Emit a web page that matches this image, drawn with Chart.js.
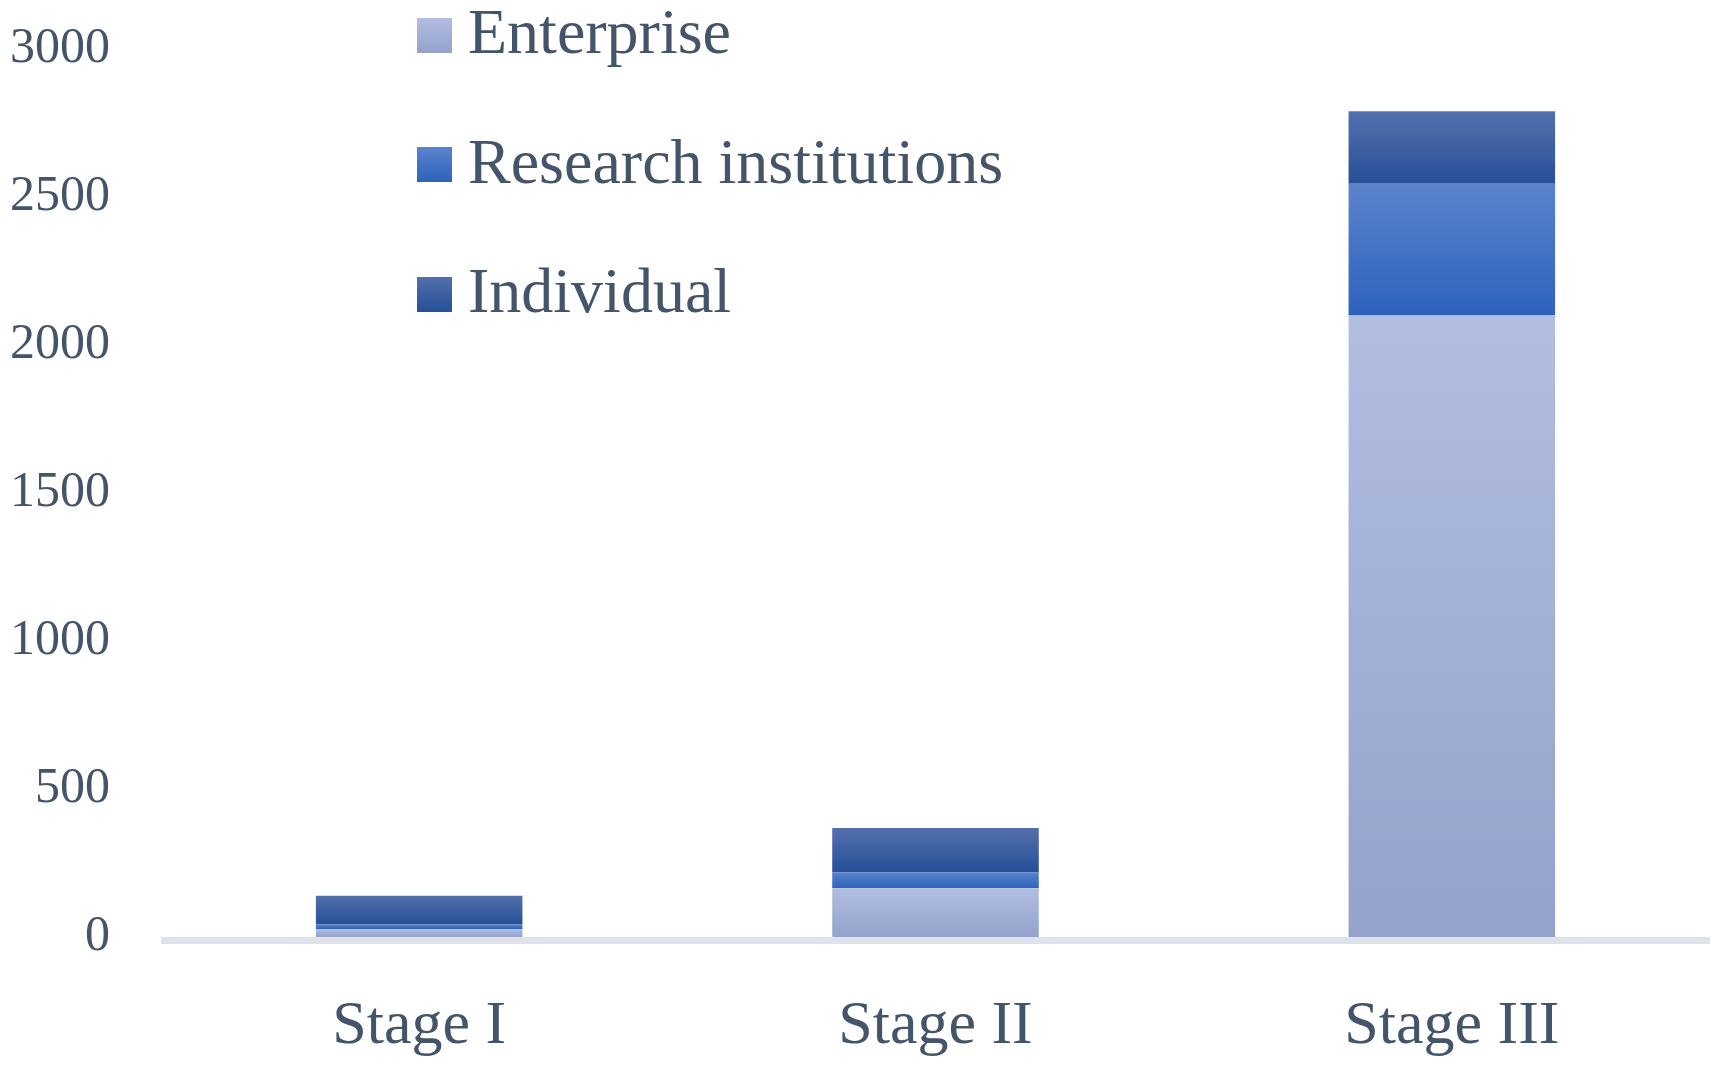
<!DOCTYPE html>
<html>
<head>
<meta charset="utf-8">
<script src="https://cdn.jsdelivr.net/npm/chart.js@4.4.1/dist/chart.umd.min.js"></script>
<style>
  html, body { margin: 0; padding: 0; background: #fff; }
  #wrap { position: relative; width: 1721px; height: 1066px; }
  #legend { position: absolute; left: 417px; top: 0; font-family: "Liberation Serif", serif; font-size: 64px; color: #44546a; }
  .item { display: flex; align-items: center; height: 70px; margin-bottom: 59.5px; white-space: nowrap; }
  .box { width: 35px; height: 35px; margin-right: 16px; flex: none; }
  .item span { line-height: 1; position: relative; top: -3px; }
</style>
</head>
<body>
<div id="wrap">
  <canvas id="chart"></canvas>
  <div id="legend"></div>
</div>
<script>
// データ
const stages = ['Stage I', 'Stage II', 'Stage III'];
const enterprise = [27, 165, 2100];
const research = [15, 54, 445];
const individual = [97, 149, 245];
const yMax = 3000;
const yStep = 500;

const seriesLabels = ['Enterprise', 'Research institutions', 'Individual'];
const seriesColors = [
  ['#b1bee0', '#94a2cc'],
  ['#5b83cc', '#2d62bc'],
  ['#5470ad', '#254f98']
];
const allSeries = [enterprise, research, individual];

const TEXT = '#44546a';

// 各セグメントごとの縦グラデーション
function segmentFill(k) {
  return ctx => {
    const chart = ctx.chart;
    const [top, bottom] = seriesColors[k];
    if (!chart.chartArea || ctx.type !== 'data') return bottom;
    const i = ctx.dataIndex;
    let base = 0;
    for (let j = 0; j < k; j++) base += allSeries[j][i];
    const y = chart.scales.y;
    const y0 = y.getPixelForValue(base + allSeries[k][i]);
    const y1 = y.getPixelForValue(base);
    if (!isFinite(y0) || !isFinite(y1) || y0 === y1) return bottom;
    const g = chart.ctx.createLinearGradient(0, y0, 0, y1);
    g.addColorStop(0, top);
    g.addColorStop(1, bottom);
    return g;
  };
}

// 軸線（棒の下に帯）
const axisLine = {
  id: 'axisLine',
  beforeDatasetsDraw(chart) {
    const { ctx, chartArea: a } = chart;
    ctx.save();
    ctx.fillStyle = '#dee2ea';
    ctx.fillRect(a.left, a.bottom, a.right - a.left, 7);
    ctx.restore();
  }
};

const datasets = allSeries.map((data, k) => ({
  label: seriesLabels[k],
  data: data,
  backgroundColor: segmentFill(k),
  borderWidth: 0,
  barPercentage: 0.4,
  categoryPercentage: 1.0
}));

const canvas = document.getElementById('chart');
canvas.width = 1721;
canvas.height = 1066;

new Chart(canvas.getContext('2d'), {
  type: 'bar',
  data: { labels: stages, datasets: datasets },
  plugins: [axisLine],
  options: {
    responsive: false,
    animation: false,
    layout: { padding: { top: 49, right: 11, bottom: 0, left: 0 } },
    plugins: {
      legend: { display: false },
      tooltip: { enabled: false }
    },
    scales: {
      x: {
        stacked: true,
        grid: { display: false, drawTicks: false },
        border: { display: false },
        afterFit: s => { s.height = 129; },
        ticks: {
          color: TEXT,
          padding: 53,
          font: { family: 'Liberation Serif', size: 62 }
        }
      },
      y: {
        stacked: true,
        min: 0,
        max: yMax,
        grid: { display: false, drawTicks: false },
        border: { display: false },
        afterFit: s => {
          s.width = 161;
          s.paddingTop = 0;
          s.paddingBottom = 0;
        },
        ticks: {
          stepSize: yStep,
          color: TEXT,
          padding: 51,
          font: { family: 'Liberation Serif', size: 50 },
          callback: v => String(v)
        }
      }
    }
  }
});

// 凡例（縦並び）
const legend = document.getElementById('legend');
seriesLabels.forEach((name, k) => {
  const row = document.createElement('div');
  row.className = 'item';
  const box = document.createElement('div');
  box.className = 'box';
  box.style.background = `linear-gradient(${seriesColors[k][0]}, ${seriesColors[k][1]})`;
  const txt = document.createElement('span');
  txt.textContent = name;
  row.appendChild(box);
  row.appendChild(txt);
  legend.appendChild(row);
});
</script>
</body>
</html>
